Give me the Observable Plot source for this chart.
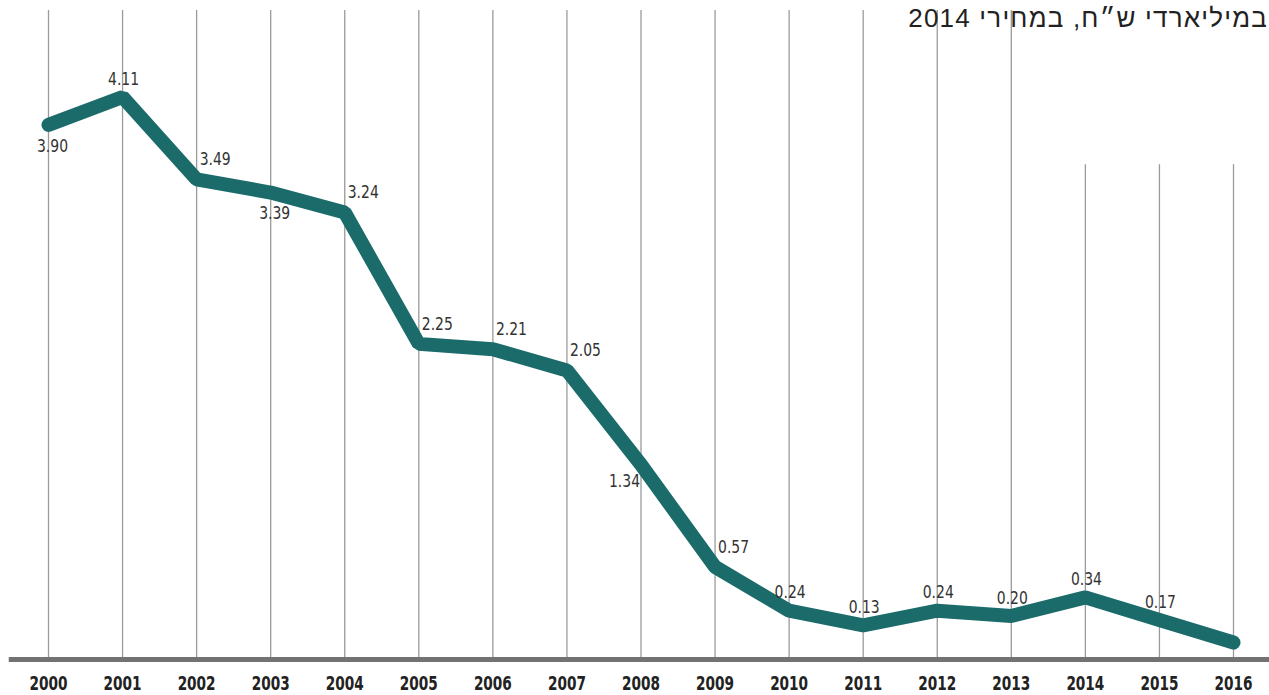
<!DOCTYPE html>
<html>
<head>
<meta charset="utf-8">
<script src="https://cdn.jsdelivr.net/npm/d3@7"></script>
<script src="https://cdn.jsdelivr.net/npm/@observablehq/plot@0.6"></script>
<style>
  html, body { margin: 0; padding: 0; background: #fff; overflow: hidden; }
  #wrap { position: relative; width: 1269px; height: 695px; overflow: hidden; }
  #title {
    position: absolute; top: 3px; right: 1px;
    font-family: "Liberation Sans", "DejaVu Sans", sans-serif;
    font-size: 26px; letter-spacing: 1.2px; color: #222; direction: rtl; white-space: nowrap;
  }
</style>
</head>
<body>
<div id="wrap">
  <div id="chart"></div>
  <div id="title" dir="rtl">במיליארדי ש״ח, במחירי 2014</div>
</div>
<script>
// ---- data ----
const years = [2000, 2001, 2002, 2003, 2004, 2005, 2006, 2007, 2008, 2009, 2010, 2011, 2012, 2013, 2014, 2015, 2016];
const values = [3.90, 4.11, 3.49, 3.39, 3.24, 2.25, 2.21, 2.05, 1.34, 0.57, 0.24, 0.13, 0.24, 0.20, 0.34, 0.17, 0.00];
const valueLabels = ["3.90", "4.11", "3.49", "3.39", "3.24", "2.25", "2.21", "2.05", "1.34", "0.57", "0.24", "0.13", "0.24", "0.20", "0.34", "0.17", ""];
const labelSide = ["below", "above", "aboveRight", "below", "aboveRight", "aboveRight", "aboveRight", "aboveRight", "belowLeft", "aboveRight", "above", "above", "above", "above", "above", "above", "none"];

// ---- build ----
const rows = years.map((y, i) => ({year: y, value: values[i], label: valueLabels[i], side: labelSide[i]}));
const yMin = -0.128, yMax = 4.762;
const gridTop = d => d >= 2014 ? 3.60 : yMax;

const placements = {
  below:      {textAnchor: "middle", dx: 4,  dy: 21},
  above:      {textAnchor: "middle", dx: 1,  dy: -18},
  aboveRight: {textAnchor: "start",  dx: 3,  dy: -20},
  belowLeft:  {textAnchor: "end",    dx: -1, dy: 17}
};
const labelMarks = Object.entries(placements).map(([side, p]) =>
  Plot.text(rows.filter(d => d.side === side), {
    x: "year", y: "value", text: "label",
    textAnchor: p.textAnchor, dx: p.dx, dy: p.dy,
    lineAnchor: "middle", fill: "#333", fontSize: 18
  })
);

const chart = Plot.plot({
  width: 1269,
  height: 695,
  marginLeft: 48,
  marginRight: 36,
  marginTop: 10,
  marginBottom: 36,
  x: {domain: [2000, 2016], axis: null},
  y: {domain: [yMin, yMax], axis: null},
  style: {fontFamily: "'DejaVu Sans Condensed', 'Liberation Sans Narrow', sans-serif", background: "#fff"},
  marks: [
    Plot.ruleX(years, {x: d => d, y1: yMin, y2: gridTop, stroke: "#9a9a9a", strokeWidth: 1.3}),
    Plot.ruleY([yMin], {x1: 1999.47, x2: 2016.6, stroke: "#727272", strokeWidth: 5}),
    Plot.line(rows, {x: "year", y: "value", stroke: "#1c6b6b", strokeWidth: 14, strokeLinecap: "round", strokeLinejoin: "miter"}),
    ...labelMarks,
    Plot.text(years, {x: d => d, frameAnchor: "bottom", text: d => String(d), dy: 24, lineAnchor: "middle", fontWeight: "bold", fontSize: 19, fill: "#222"})
  ]
});
document.getElementById("chart").appendChild(chart);

// narrow the text to imitate the condensed face of the reference
const textGroups = chart.querySelectorAll('g[aria-label="text"]');
textGroups[textGroups.length - 1].querySelectorAll("text").forEach(t => {
  t.setAttribute("textLength", 38);
  t.setAttribute("lengthAdjust", "spacingAndGlyphs");
});
for (let i = 0; i < textGroups.length - 1; i++) {
  textGroups[i].querySelectorAll("text").forEach(t => {
    t.setAttribute("textLength", 31);
    t.setAttribute("lengthAdjust", "spacingAndGlyphs");
  });
}
</script>
</body>
</html>
